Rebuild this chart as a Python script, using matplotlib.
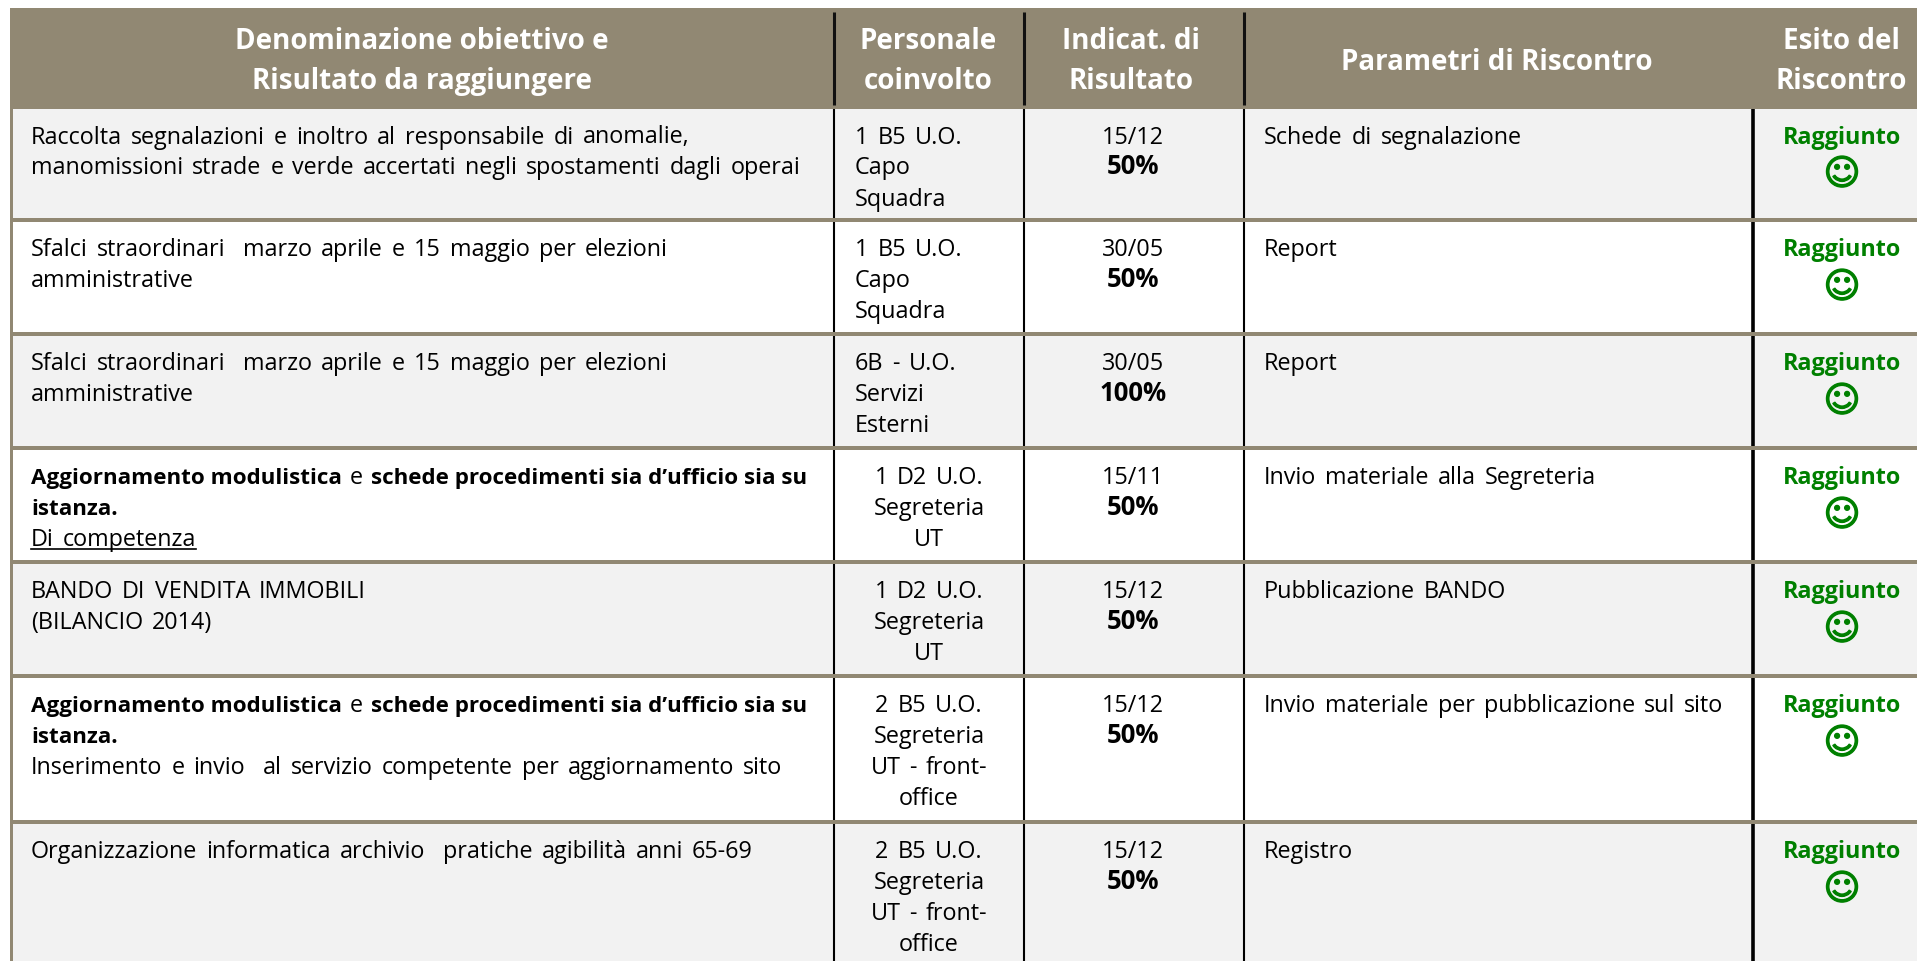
import matplotlib
matplotlib.use('Agg')
import matplotlib.pyplot as plt
import matplotlib.patheffects as pe

header_labels = [['Denominazione obiettivo e', 'Risultato da raggiungere'],
                 ['Personale', 'coinvolto'],
                 ['Indicat. di', 'Risultato'],
                 ['Parametri di Riscontro'],
                 ['Esito del', 'Riscontro']]

# each line is a list of (text, style) runs: n normal, b bold, u underlined
objectives = [
    [[('Raccolta segnalazioni e inoltro al responsabile di anomalie,', 'n')],
     [('manomissioni strade e verde accertati negli spostamenti dagli operai', 'n')]],
    [[('Sfalci straordinari  marzo aprile e 15 maggio per elezioni', 'n')],
     [('amministrative', 'n')]],
    [[('Sfalci straordinari  marzo aprile e 15 maggio per elezioni', 'n')],
     [('amministrative', 'n')]],
    [[('Aggiornamento modulistica', 'b'), ('e', 'n'), ('schede procedimenti sia d\u2019ufficio sia su', 'b')],
     [('istanza.', 'b')],
     [('Di competenza', 'u')]],
    [[('BANDO DI VENDITA IMMOBILI', 'n')],
     [('(BILANCIO 2014)', 'n')]],
    [[('Aggiornamento modulistica', 'b'), ('e', 'n'), ('schede procedimenti sia d\u2019ufficio sia su', 'b')],
     [('istanza.', 'b')],
     [('Inserimento e invio  al servizio competente per aggiornamento sito', 'n')]],
    [[('Organizzazione informatica archivio  pratiche agibilità anni 65-69', 'n')]],
]
staff = [['1 B5 U.O.', 'Capo', 'Squadra'],
         ['1 B5 U.O.', 'Capo', 'Squadra'],
         ['6B - U.O.', 'Servizi', 'Esterni'],
         ['1 D2 U.O.', 'Segreteria', 'UT'],
         ['1 D2 U.O.', 'Segreteria', 'UT'],
         ['2 B5 U.O.', 'Segreteria', 'UT - front-', 'office'],
         ['2 B5 U.O.', 'Segreteria', 'UT - front-', 'office']]
staff_centered = [False, False, False, True, True, True, True]
dates = ['15/12', '30/05', '30/05', '15/11', '15/12', '15/12', '15/12']
percents = ['50%', '50%', '100%', '50%', '50%', '50%', '50%']
parameters = ['Schede di segnalazione', 'Report', 'Report', 'Invio materiale alla Segreteria',
              'Pubblicazione BANDO', 'Invio materiale per pubblicazione sul sito', 'Registro']
outcome = 'Raggiunto'
smile = '\u263a'

W, H = 1917, 962
BAND = '#918873'
FONT = 'Open Sans'
FS = 16.8
BFS = 16.1
HFS = 20
LINE = 31
SPACE = 9

row_tops = [110, 223, 337, 451, 565, 679, 825]
seps = [223, 337, 451, 565, 679, 825]
col_lines = [834, 1024, 1244]
header_centers = [422, 928, 1131, 1497, 1841]

fig = plt.figure(figsize=(W / 100, H / 100), dpi=100)
ax = fig.add_axes([0, 0, 1, 1])
ax.set_xlim(0, W)
ax.set_ylim(H, 0)
ax.axis('off')
renderer = fig.canvas.get_renderer()

def rect(x0, y0, x1, y1, color, z=1):
    ax.fill_between([x0, x1], y0, y1, color=color, lw=0, zorder=z)

def word_line(x, y, line, weight='normal', fs=FS, centered=False):
    # wider word gaps than the font's own space, as in the reference
    words = line.split(' ')
    items = [ax.text(x, y, w, fontsize=fs, family=FONT, fontweight=weight, va='baseline', zorder=4)
             for w in words]
    widths = [t.get_window_extent(renderer).width if w else 0 for t, w in zip(items, words)]
    total = sum(widths) + SPACE * (len(words) - 1)
    cur = x - total / 2 if centered else x
    start = cur
    for t, wd in zip(items, widths):
        t.set_x(cur)
        cur += wd + SPACE
    return start, start + total

# row backgrounds
rect(12, 9, W, H, 'white', 0)
bounds = row_tops + [H]
for i in range(len(row_tops)):
    rect(12, bounds[i], W, bounds[i + 1], '#f2f2f2' if i % 2 == 0 else 'white')

# header band, left border and separators
rect(10, 9, W, 110, BAND, 2)
rect(10, 9, 13, H, BAND, 2)
for y in seps:
    rect(10, y - 4, W, y, BAND, 2)

# column rules
for x in col_lines:
    ax.plot([x, x], [13, 106], color='#111111', lw=2.2, zorder=3, solid_capstyle='butt')
    for i in range(len(row_tops)):
        ax.plot([x, x], [bounds[i], bounds[i + 1] - (4 if i < 6 else 0)], color='black', lw=1.5, zorder=3,
                solid_capstyle='butt')
for i in range(len(row_tops)):
    ax.plot([1753, 1753], [bounds[i], bounds[i + 1] - (4 if i < 6 else 0)], color='black', lw=2.6, zorder=3,
            solid_capstyle='butt')

# header text
for lines, cx in zip(header_labels, header_centers):
    base = [49, 89] if len(lines) == 2 else [70]
    for t, y in zip(lines, base):
        ax.text(cx, y, t, color='white', fontsize=HFS, fontweight='bold', family=FONT,
                ha='center', va='baseline', zorder=4)

def draw_runs(x, y, runs):
    for t, style in runs:
        if style == 'b':
            txt = ax.text(x, y, t, fontsize=BFS, family=FONT, fontweight='bold', va='baseline', zorder=4)
            x += txt.get_window_extent(renderer).width
        else:
            s, e = word_line(x, y, t)
            if style == 'u':
                ax.plot([s, e], [y + 3, y + 3], color='black', lw=1.2, zorder=4)
            x = e
        x += 8

for i, top in enumerate(row_tops):
    y0 = top + 33.5
    for j, runs in enumerate(objectives[i]):
        draw_runs(31, y0 + j * LINE, runs)
    for j, t in enumerate(staff[i]):
        if staff_centered[i]:
            word_line(929, y0 + j * LINE, t, centered=True)
        else:
            word_line(855, y0 + j * LINE, t)
    ax.text(1133, y0, dates[i], fontsize=FS, family=FONT, ha='center', va='baseline', zorder=4)
    ax.text(1133, y0 + LINE, percents[i], fontsize=18.5, family=FONT, fontweight='bold', ha='center',
            va='baseline', zorder=4)
    word_line(1264, y0, parameters[i])
    ax.text(1842, y0, outcome, fontsize=FS, family=FONT, fontweight='bold', color='#008000', ha='center',
            va='baseline', zorder=4)
    ax.text(1842, y0 + 42, smile, fontsize=25.5, family='DejaVu Sans', color='#008000',
            ha='center', va='baseline', zorder=4,
            path_effects=[pe.withStroke(linewidth=1.0, foreground='#008000')])

fig.savefig('out.png', dpi=100)
